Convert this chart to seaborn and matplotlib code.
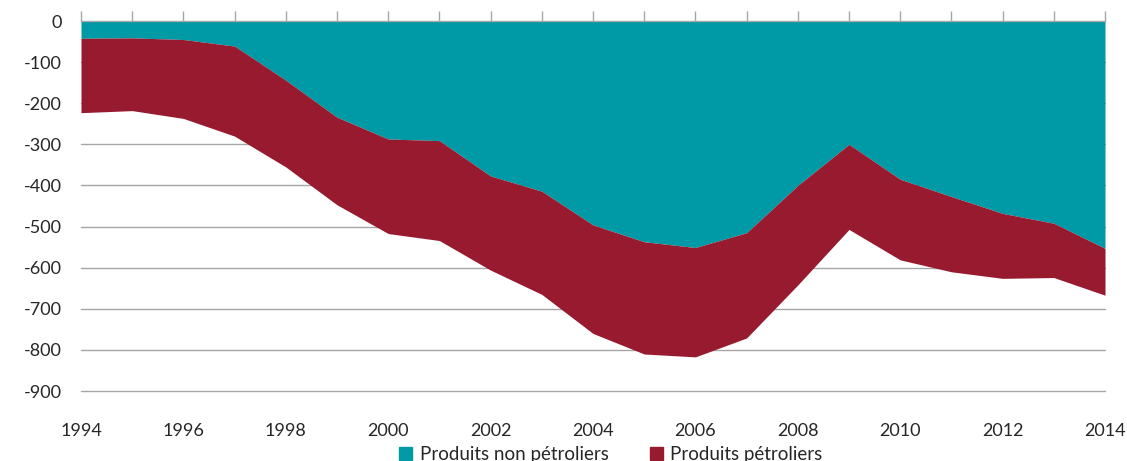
#!/usr/bin/python

import numpy as np
import pandas as pd
import seaborn as sns
import matplotlib
matplotlib.use('Agg')
import matplotlib.pyplot as plt
from matplotlib.patches import Patch

# Data
years = list(range(1994, 2015))
non_petroliers = [-42, -41, -45, -61, -144, -234, -287, -291, -377, -414, -496,
                  -537, -551, -515, -400, -300, -385, -427, -468, -492, -553]
petroliers = [-181, -177, -192, -219, -211, -213, -230, -243, -229, -251, -264,
              -273, -266, -256, -242, -207, -196, -183, -158, -132, -114]
series_labels = ['Produits non pétroliers', 'Produits pétroliers']
y_ticks = list(range(0, -1000, -100))
x_label_years = list(range(1994, 2015, 2))

TEAL = '#0099a6'
RED = '#981a2f'
GRID = '#a6a6a6'

df = pd.DataFrame({'annee': years,
                   'non_petroliers': non_petroliers,
                   'petroliers': petroliers})

sns.set_style('white')
plt.rcParams['font.family'] = ['Lato', 'DejaVu Sans']
plt.rcParams['axes.unicode_minus'] = False

fig = plt.figure(figsize=(11.27, 4.61), dpi=100)
ax = fig.add_axes([81 / 1127, 70 / 461, 1024 / 1127, 370 / 461])

# Gridlines behind the areas
for v in y_ticks[1:]:
    ax.axhline(v, color=GRID, lw=1.0, zorder=0, clip_on=False)

# Stacked areas
ax.stackplot(df['annee'], df['non_petroliers'], df['petroliers'],
             colors=[TEAL, RED], linewidth=0, zorder=2)

ax.set_xlim(1994, 2014)
ax.set_ylim(-900, 0)

ax.set_yticks(y_ticks)
ax.set_yticklabels([str(v) for v in y_ticks], fontsize=13, color='#262626')
ax.tick_params(axis='y', length=0, pad=14)

ax.set_xticks(years)
ax.set_xticklabels([str(y) if y in x_label_years else '' for y in years],
                   fontsize=13, color='#262626')
ax.tick_params(axis='x', bottom=False, top=True, direction='out',
               length=7, width=1, color=GRID, pad=16)

for side in ['left', 'right', 'bottom']:
    ax.spines[side].set_visible(False)
ax.spines['top'].set_color(GRID)
ax.spines['top'].set_linewidth(1)
ax.spines['top'].set_zorder(3)

handles = [Patch(color=TEAL), Patch(color=RED)]
fig.legend(handles, series_labels, loc='center', ncol=2,
           bbox_to_anchor=(0.542, 0.014), frameon=False, fontsize=13.5,
           handlelength=0.7, handleheight=0.7, handletextpad=0.4,
           columnspacing=2.2)

fig.savefig('out.png', dpi=100)
plt.close(fig)
